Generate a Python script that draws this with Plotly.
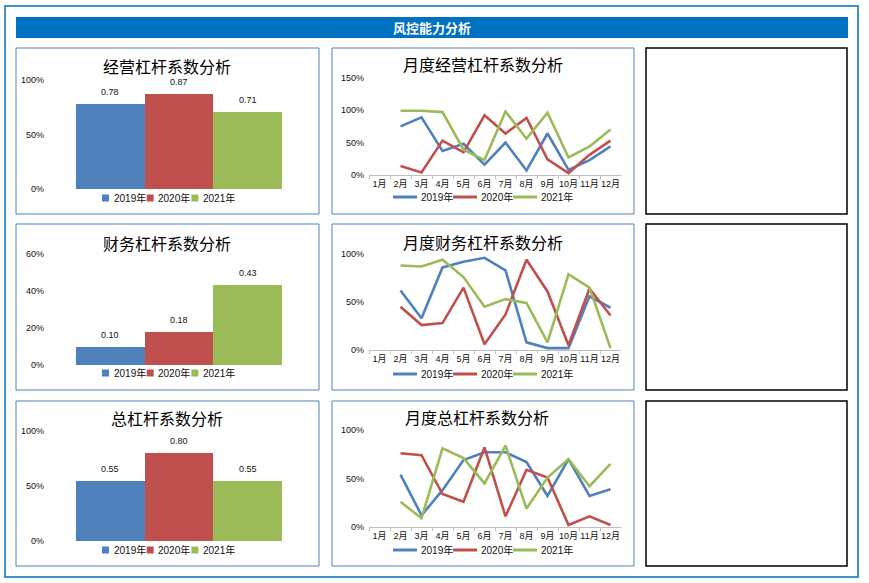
import plotly.graph_objects as go

W, H = 869, 583

# ---------------- data ----------------
years = ["2019年", "2020年", "2021年"]
months = ["1月", "2月", "3月", "4月", "5月", "6月", "7月", "8月", "9月", "10月", "11月", "12月"]
colors = ["#4F81BD", "#C0504D", "#9BBB59"]

main_title = "风控能力分析"
bar_titles = ["经营杠杆系数分析", "财务杠杆系数分析", "总杠杆系数分析"]
line_titles = ["月度经营杠杆系数分析", "月度财务杠杆系数分析", "月度总杠杆系数分析"]

op_lev = [0.78, 0.87, 0.71]
fin_lev = [0.10, 0.18, 0.43]
tot_lev = [0.55, 0.80, 0.55]

op_2019 = [None, 0.75, 0.89, 0.37, 0.48, 0.16, 0.50, 0.07, 0.64, 0.08, 0.23, 0.44]
op_2020 = [None, 0.14, 0.04, 0.53, 0.35, 0.92, 0.64, 0.88, 0.24, 0.03, 0.31, 0.53]
op_2021 = [None, 0.99, 0.99, 0.97, 0.39, 0.23, 0.98, 0.56, 0.96, 0.27, 0.44, 0.70]

fin_2019 = [None, 0.62, 0.33, 0.86, 0.92, 0.96, 0.83, 0.08, 0.02, 0.02, 0.56, 0.44]
fin_2020 = [None, 0.45, 0.26, 0.28, 0.65, 0.06, 0.37, 0.94, 0.61, 0.05, 0.64, 0.36]
fin_2021 = [None, 0.88, 0.87, 0.94, 0.76, 0.45, 0.53, 0.49, 0.08, 0.79, 0.65, 0.02]

tot_2019 = [None, 0.54, 0.12, 0.38, 0.69, 0.77, 0.77, 0.67, 0.32, 0.70, 0.32, 0.39]
tot_2020 = [None, 0.76, 0.74, 0.34, 0.26, 0.82, 0.11, 0.59, 0.51, 0.02, 0.11, 0.02]
tot_2021 = [None, 0.26, 0.09, 0.81, 0.71, 0.45, 0.84, 0.19, 0.51, 0.70, 0.42, 0.65]

bar_values = [op_lev, fin_lev, tot_lev]
line_values = [[op_2019, op_2020, op_2021],
               [fin_2019, fin_2020, fin_2021],
               [tot_2019, tot_2020, tot_2021]]
bar_ticks = [[0, 0.5, 1.0], [0, 0.2, 0.4, 0.6], [0, 0.5, 1.0]]
line_ticks = [[0, 0.5, 1.0, 1.5], [0, 0.5, 1.0], [0, 0.5, 1.0]]

# ---------------- layout geometry (pixels) ----------------
def px(x):
    return x / W

def py(y):
    return 1 - y / H

rows = [(48, 214), (224, 390), (401, 566)]
col_left = (16, 319)
col_mid = (332, 634)
col_right = (646, 847)

bar_plot_x = (76, 282)
bar_plot_y = [(80, 189), (254, 365), (431, 541)]
line_plot_x = (369, 621)
line_plot_y = [(77.7, 175), (254, 350), (430, 527)]

bar_title_pos = [(167, 65.5), (167, 242.5), (167, 417.5)]
line_title_pos = [(483, 64.5), (483, 241.5), (477, 416.5)]
bar_legend_y = [198, 373, 550]
line_legend_y = [197, 374, 550]

LAT = "Liberation Sans, Arial, Noto Sans CJK SC"
CJK = "Noto Sans CJK SC, Microsoft YaHei, sans-serif"

fig = go.Figure()
shapes = []
annotations = []
layout_axes = {}

# outer frame and title bar
shapes.append(dict(type="rect", xref="paper", yref="paper",
                   x0=px(5), x1=px(858), y0=py(577), y1=py(6),
                   line=dict(color="#0070C0", width=1.5), fillcolor="rgba(0,0,0,0)"))
shapes.append(dict(type="rect", xref="paper", yref="paper",
                   x0=px(16), x1=px(848), y0=py(38), y1=py(17),
                   line=dict(width=0), fillcolor="#0070C0"))
annotations.append(dict(text="<b>" + main_title + "</b>", xref="paper", yref="paper",
                        x=px(432), y=py(27.5), showarrow=False,
                        font=dict(family=CJK, size=13, color="white"),
                        xanchor="center", yanchor="middle"))

# panel frames
for (r0, r1) in rows:
    for (c0, c1) in (col_left, col_mid):
        shapes.append(dict(type="rect", xref="paper", yref="paper",
                           x0=px(c0), x1=px(c1), y0=py(r1), y1=py(r0),
                           line=dict(color="#4F81BD", width=1), fillcolor="white", layer="below"))
    shapes.append(dict(type="rect", xref="paper", yref="paper",
                       x0=px(col_right[0]), x1=px(col_right[1]), y0=py(r1), y1=py(r0),
                       line=dict(color="black", width=1.5), fillcolor="white", layer="below"))

tick_font = dict(family=LAT, size=9, color="#111111")

# bar charts
for i in range(3):
    ax = i + 1
    xa = "x" if ax == 1 else f"x{ax}"
    ya = "y" if ax == 1 else f"y{ax}"
    vals = bar_values[i]
    fig.add_trace(go.Bar(x=years, y=vals, marker=dict(color=colors, line=dict(width=0)),
                         xaxis=xa, yaxis=ya, showlegend=False, hoverinfo="skip"))
    layout_axes["xaxis" if ax == 1 else f"xaxis{ax}"] = dict(
        domain=[px(bar_plot_x[0]), px(bar_plot_x[1])], anchor=ya, type="category",
        range=[-0.5, 2.5], showticklabels=False, showline=False, showgrid=False,
        zeroline=False, ticks="", fixedrange=True, automargin=False)
    y0, y1 = bar_plot_y[i]
    tv = bar_ticks[i]
    layout_axes["yaxis" if ax == 1 else f"yaxis{ax}"] = dict(
        domain=[py(y1), py(y0)], anchor=xa, range=[tv[0], tv[-1]], tickvals=tv,
        tickformat=".0%", showline=False, showgrid=False, zeroline=False, ticks="",
        tickfont=tick_font, ticklabelstandoff=31, fixedrange=True, automargin=False)
    # data labels
    for k, v in enumerate(vals):
        annotations.append(dict(text=f"{v:.2f}", x=years[k], y=v, xref=xa, yref=ya,
                                showarrow=False, yshift=12, xanchor="center", yanchor="middle",
                                font=dict(family=LAT, size=9, color="#111111")))
    # title
    tx, ty = bar_title_pos[i]
    annotations.append(dict(text=bar_titles[i], xref="paper", yref="paper", x=px(tx), y=py(ty),
                            showarrow=False, xanchor="center", yanchor="middle",
                            font=dict(family=CJK, size=16, color="black")))
    # legend
    ly = bar_legend_y[i]
    for k, name in enumerate(years):
        sx = 102 + 44.7 * k
        shapes.append(dict(type="rect", xref="paper", yref="paper",
                           x0=px(sx), x1=px(sx + 7), y0=py(ly + 3.5), y1=py(ly - 3.5),
                           line=dict(width=0), fillcolor=colors[k]))
        annotations.append(dict(text=name, xref="paper", yref="paper", x=px(sx + 9.5), y=py(ly),
                                showarrow=False, xanchor="left", yanchor="middle",
                                font=dict(family=LAT, size=10, color="#111111")))

# line charts
for i in range(3):
    ax = i + 4
    xa = f"x{ax}"
    ya = f"y{ax}"
    for k in range(3):
        fig.add_trace(go.Scatter(x=months, y=line_values[i][k], mode="lines", name=years[k],
                                 line=dict(color=colors[k], width=2.6),
                                 xaxis=xa, yaxis=ya, showlegend=False, hoverinfo="skip",
                                 connectgaps=False))
    layout_axes[f"xaxis{ax}"] = dict(
        domain=[px(line_plot_x[0]), px(line_plot_x[1])], anchor=ya, type="category",
        categoryorder="array", categoryarray=months, tickangle=0,
        range=[-0.5, 11.5], showline=True, linecolor="#BFBFBF", linewidth=1,
        ticks="outside", tickson="boundaries", ticklen=3, tickcolor="#BFBFBF",
        showgrid=False, zeroline=False, tickfont=tick_font, fixedrange=True, automargin=False)
    y0, y1 = line_plot_y[i]
    tv = line_ticks[i]
    layout_axes[f"yaxis{ax}"] = dict(
        domain=[py(y1), py(y0)], anchor=xa, range=[tv[0], tv[-1]], tickvals=tv,
        tickformat=".0%", showline=False, showgrid=False, zeroline=False, ticks="",
        tickfont=tick_font, ticklabelstandoff=4, fixedrange=True, automargin=False)
    tx, ty = line_title_pos[i]
    annotations.append(dict(text=line_titles[i], xref="paper", yref="paper", x=px(tx), y=py(ty),
                            showarrow=False, xanchor="center", yanchor="middle",
                            font=dict(family=CJK, size=16, color="black")))
    ly = line_legend_y[i]
    for k, name in enumerate(years):
        sx = 393 + 60 * k
        shapes.append(dict(type="line", xref="paper", yref="paper",
                           x0=px(sx), x1=px(sx + 24), y0=py(ly), y1=py(ly),
                           line=dict(color=colors[k], width=3)))
        annotations.append(dict(text=name, xref="paper", yref="paper", x=px(sx + 26), y=py(ly),
                                showarrow=False, xanchor="left", yanchor="middle",
                                font=dict(family=LAT, size=10, color="#111111")))

fig.update_layout(
    width=W, height=H, margin=dict(l=0, r=0, t=0, b=0, pad=0),
    paper_bgcolor="white", plot_bgcolor="rgba(0,0,0,0)",
    showlegend=False, bargap=0, barmode="group",
    shapes=shapes, annotations=annotations,
    **layout_axes,
)

fig.write_html("out.html", config=dict(displayModeBar=False, staticPlot=True),
               post_script="document.body.style.margin='0';")
